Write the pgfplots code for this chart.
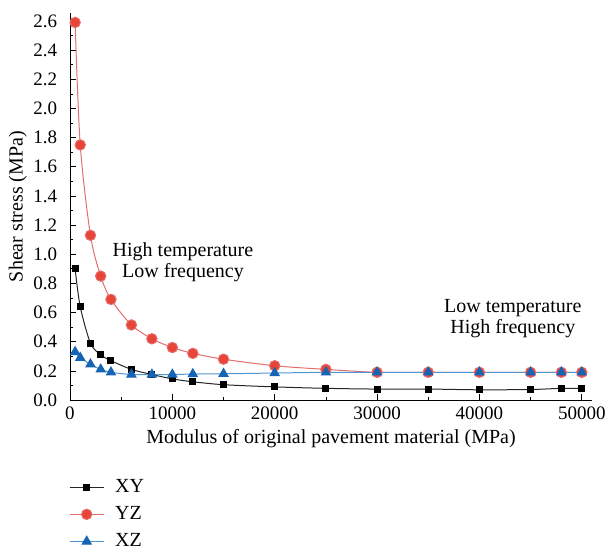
\documentclass[border=0pt]{standalone}
\usepackage{pgfplots}
\pgfplotsset{compat=1.18}
\usepackage{fontspec}
\setmainfont{Liberation Serif}
\definecolor{redm}{RGB}{232,68,56}
\definecolor{redl}{RGB}{226,110,110}
\definecolor{bluem}{RGB}{22,100,180}
\definecolor{bluel}{RGB}{80,150,210}
\begin{document}
\fontsize{20}{22}\selectfont
\begin{tikzpicture}
\begin{axis}[
  scale only axis,
  width=522pt, height=387pt,
  xmin=0, xmax=51000, ymin=0, ymax=2.655,
  axis lines=left,
  axis line style={-, black, line width=0.8pt},
  xtick={0,10000,...,50000},
  ytick={0,0.2,...,2.6},
  minor x tick num=1,
  minor y tick num=1,
  tick align=inside,
  major tick length=6pt, minor tick length=3pt,
  tick style={black, line width=0.7pt},
  scaled x ticks=false,
  /pgf/number format/1000 sep={},
  /pgf/number format/assume math mode=true,
  yticklabel style={/pgf/number format/fixed, /pgf/number format/precision=1, /pgf/number format/fixed zerofill, font=\fontsize{19}{20}\selectfont, xshift=-6pt},
  xticklabel style={/pgf/number format/fixed, font=\fontsize{19}{20}\selectfont},
  xlabel={Modulus of original pavement material (MPa)},
  ylabel={Shear stress (MPa)},
  xlabel style={font=\fontsize{20}{22}\selectfont, yshift=4pt},
  ylabel style={font=\fontsize{20}{22}\selectfont, yshift=-7pt},
  legend style={draw=none, fill=none, at={(0,0)}, anchor=north west, yshift=-75pt, xshift=-4pt, font=\fontsize{20}{22}\selectfont, row sep=7pt, legend cell align=left},
  legend image code/.code={\draw[mark repeat=2,mark phase=2,#1] plot coordinates {(0pt,0pt)(17pt,0pt)(34pt,0pt)}; \path (43pt,0pt);},
]
\addplot[black!85, line width=1pt, smooth, mark=square*, mark size=3pt, mark options={fill=black, draw=black}] coordinates {
(500,0.90)(1000,0.64)(2000,0.39)(3000,0.31)(4000,0.27)(6000,0.21)(8000,0.175)(10000,0.145)(12000,0.125)(15000,0.105)(20000,0.09)(25000,0.08)(30000,0.075)(35000,0.075)(40000,0.07)(45000,0.072)(48000,0.08)(50000,0.08)};
\addlegendentry{XY}
\addplot[redl, line width=1pt, smooth, mark=*, mark size=5.2pt, mark options={fill=redm, draw=redl}] coordinates {
(500,2.59)(1000,1.75)(2000,1.13)(3000,0.85)(4000,0.69)(6000,0.515)(8000,0.42)(10000,0.36)(12000,0.32)(15000,0.28)(20000,0.235)(25000,0.21)(30000,0.19)(35000,0.19)(40000,0.19)(45000,0.19)(48000,0.19)(50000,0.19)};
\addlegendentry{YZ}
\addplot[bluel, line width=1pt, smooth, mark=triangle*, mark size=5.2pt, mark options={fill=bluem, draw=bluem}] coordinates {
(500,0.33)(1000,0.29)(2000,0.245)(3000,0.21)(4000,0.19)(6000,0.175)(8000,0.175)(10000,0.175)(12000,0.178)(15000,0.18)(20000,0.185)(25000,0.19)(30000,0.19)(35000,0.19)(40000,0.19)(45000,0.19)(48000,0.19)(50000,0.19)};
\addlegendentry{XZ}
\node[align=center, font=\fontsize{20}{21}\selectfont] at (axis cs:11035,0.947) {High temperature\\Low frequency};
\node[align=center, font=\fontsize{20}{21}\selectfont] at (axis cs:43260,0.555) {Low temperature\\High frequency};
\end{axis}
\pgfresetboundingbox
\path[use as bounding box] ([shift={(-70pt,-157pt)}]current axis.south west) rectangle ++(609pt,557pt);
\end{tikzpicture}
\end{document}
